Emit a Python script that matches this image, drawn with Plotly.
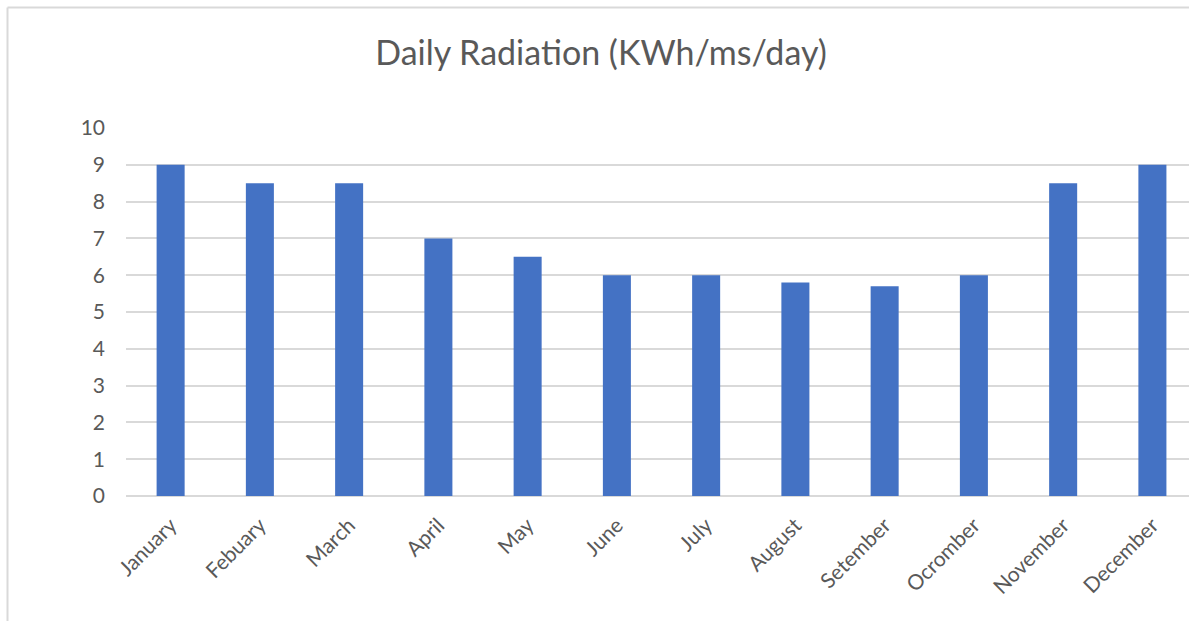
import plotly.graph_objects as go

months = ["January", "Febuary", "March", "April", "May", "June", "July",
          "August", "Setember", "Ocromber", "November", "December"]
radiation = [9, 8.5, 8.5, 7, 6.5, 6, 6, 5.8, 5.7, 6, 8.5, 9]
y_ticks = list(range(0, 11))

W, H = 1189, 621
ML, MR, MT, MB = 126, 0, 128, 125
PW, PH = W - ML - MR, H - MT - MB

def px_x(p):
    return (p - ML) / PW

def px_y(p):
    return (H - MB - p) / PH

fig = go.Figure(go.Bar(
    x=months, y=radiation,
    marker=dict(color="#4472C4", line=dict(width=0)),
))

frame = dict(color="#d9d9d9", width=2)
fig.add_shape(type="line", xref="paper", yref="paper",
              x0=px_x(7.5), x1=px_x(7.5), y0=px_y(7.5), y1=px_y(H + 5), line=frame)
fig.add_shape(type="line", xref="paper", yref="paper",
              x0=px_x(7.5), x1=px_x(W + 5), y0=px_y(7.5), y1=px_y(7.5), line=frame)

fig.update_layout(
    width=W, height=H,
    margin=dict(l=ML, r=MR, t=MT, b=MB),
    paper_bgcolor="white", plot_bgcolor="white",
    font=dict(family="Lato", color="#595959", size=21),
    title=dict(text="Daily Radiation (KWh/ms/day)", x=px_x(601), xref="paper",
               xanchor="center", y=1 - 53 / H, yanchor="middle",
               font=dict(size=34, color="#595959", family="Lato")),
    bargap=0.686,
    showlegend=False,
    xaxis=dict(range=[-0.5, 11.41], tickangle=-45, showgrid=False, showline=False,
               ticks="", ticklabelstandoff=12, tickfont=dict(size=21, color="#595959")),
    yaxis=dict(range=[0, 10], tickvals=y_ticks, showgrid=True, gridcolor="#d9d9d9",
               gridwidth=1.5, zeroline=True, zerolinecolor="#d9d9d9", zerolinewidth=1.5,
               showline=False, ticks="", ticklabelstandoff=20,
               tickfont=dict(size=21, color="#595959")),
)

fig.write_html("out.html", config={"displayModeBar": False},
               post_script="document.body.style.margin='0';document.body.style.padding='0';")
